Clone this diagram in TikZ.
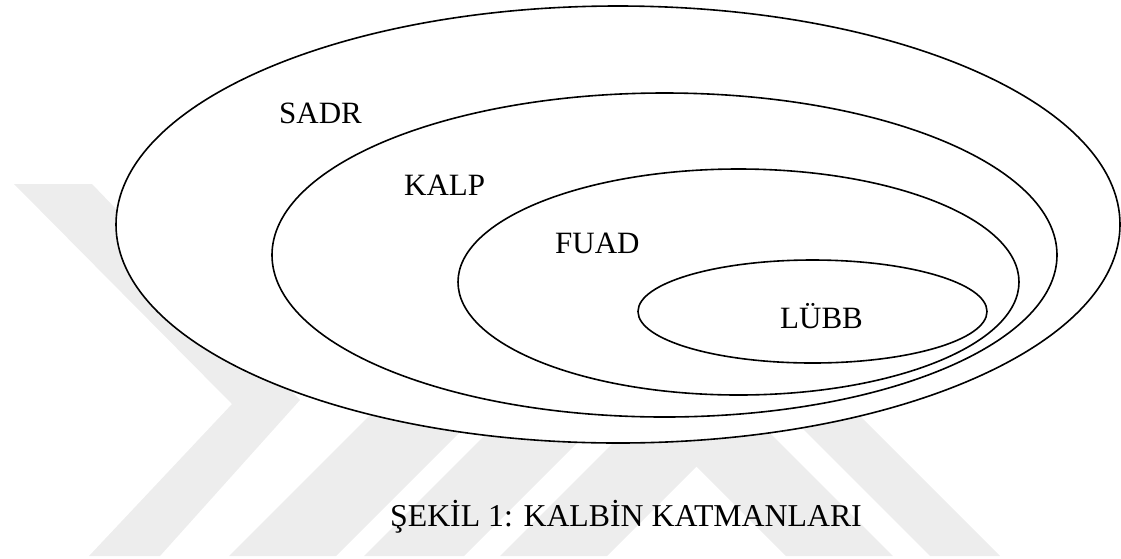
\documentclass[tikz,border=0pt]{standalone}
\usepackage{fontspec}
\setmainfont{Liberation Serif}
\usetikzlibrary{shapes.geometric}
\begin{document}
\begin{tikzpicture}[x=1pt,y=-1pt,
  layer/.style={draw, line width=1.6pt, fill=white, ellipse, inner sep=0pt},
  lbl/.style={font=\fontsize{31}{36}\selectfont, inner sep=0pt, anchor=base west},
  wm/.style={fill=black!7, draw=none}]
\useasboundingbox (0,0) rectangle (1121,558);
% watermark
\fill[wm] (14,184) -- (92,184) -- (300,400) -- (160,556) -- (89,556) -- (232,404) -- cycle;
\fill[wm] (229,556) -- (336,556) -- (592,300) -- (485,300) -- cycle;
\fill[wm] (364,556) -- (464,556) -- (720,300) -- (620,300) -- cycle;
\fill[wm] (500,556) -- (607,556) -- (863,300) -- (756,300) -- cycle;
\fill[wm] (786,556) -- (893,556) -- (637,300) -- (530,300) -- cycle;
\fill[wm] (930,556) -- (1000,556) -- (744,300) -- (674,300) -- cycle;
% layers
\node[layer, minimum width=1004pt, minimum height=437pt] (sadr) at (618,224.5) {};
\node[layer, minimum width=785pt, minimum height=324pt] (kalp) at (664.5,255) {};
\node[layer, minimum width=561pt, minimum height=226pt] (fuad) at (738.5,282) {};
\node[layer, minimum width=349pt, minimum height=103pt] (lubb) at (812.5,311.5) {};
% labels
\node[lbl] (tsadr) at (279,123) {SADR};
\node[lbl] (tkalp) at (404,195) {KALP};
\node[lbl] (tfuad) at (555,253) {FUAD};
\node[lbl] (tlubb) at (780,328) {LÜBB};
\node[font=\fontsize{31.8}{38}\selectfont, inner sep=0pt, anchor=base] (cap) at (626,526) {ŞEKİL 1: KALBİN KATMANLARI};
\end{tikzpicture}
\end{document}
